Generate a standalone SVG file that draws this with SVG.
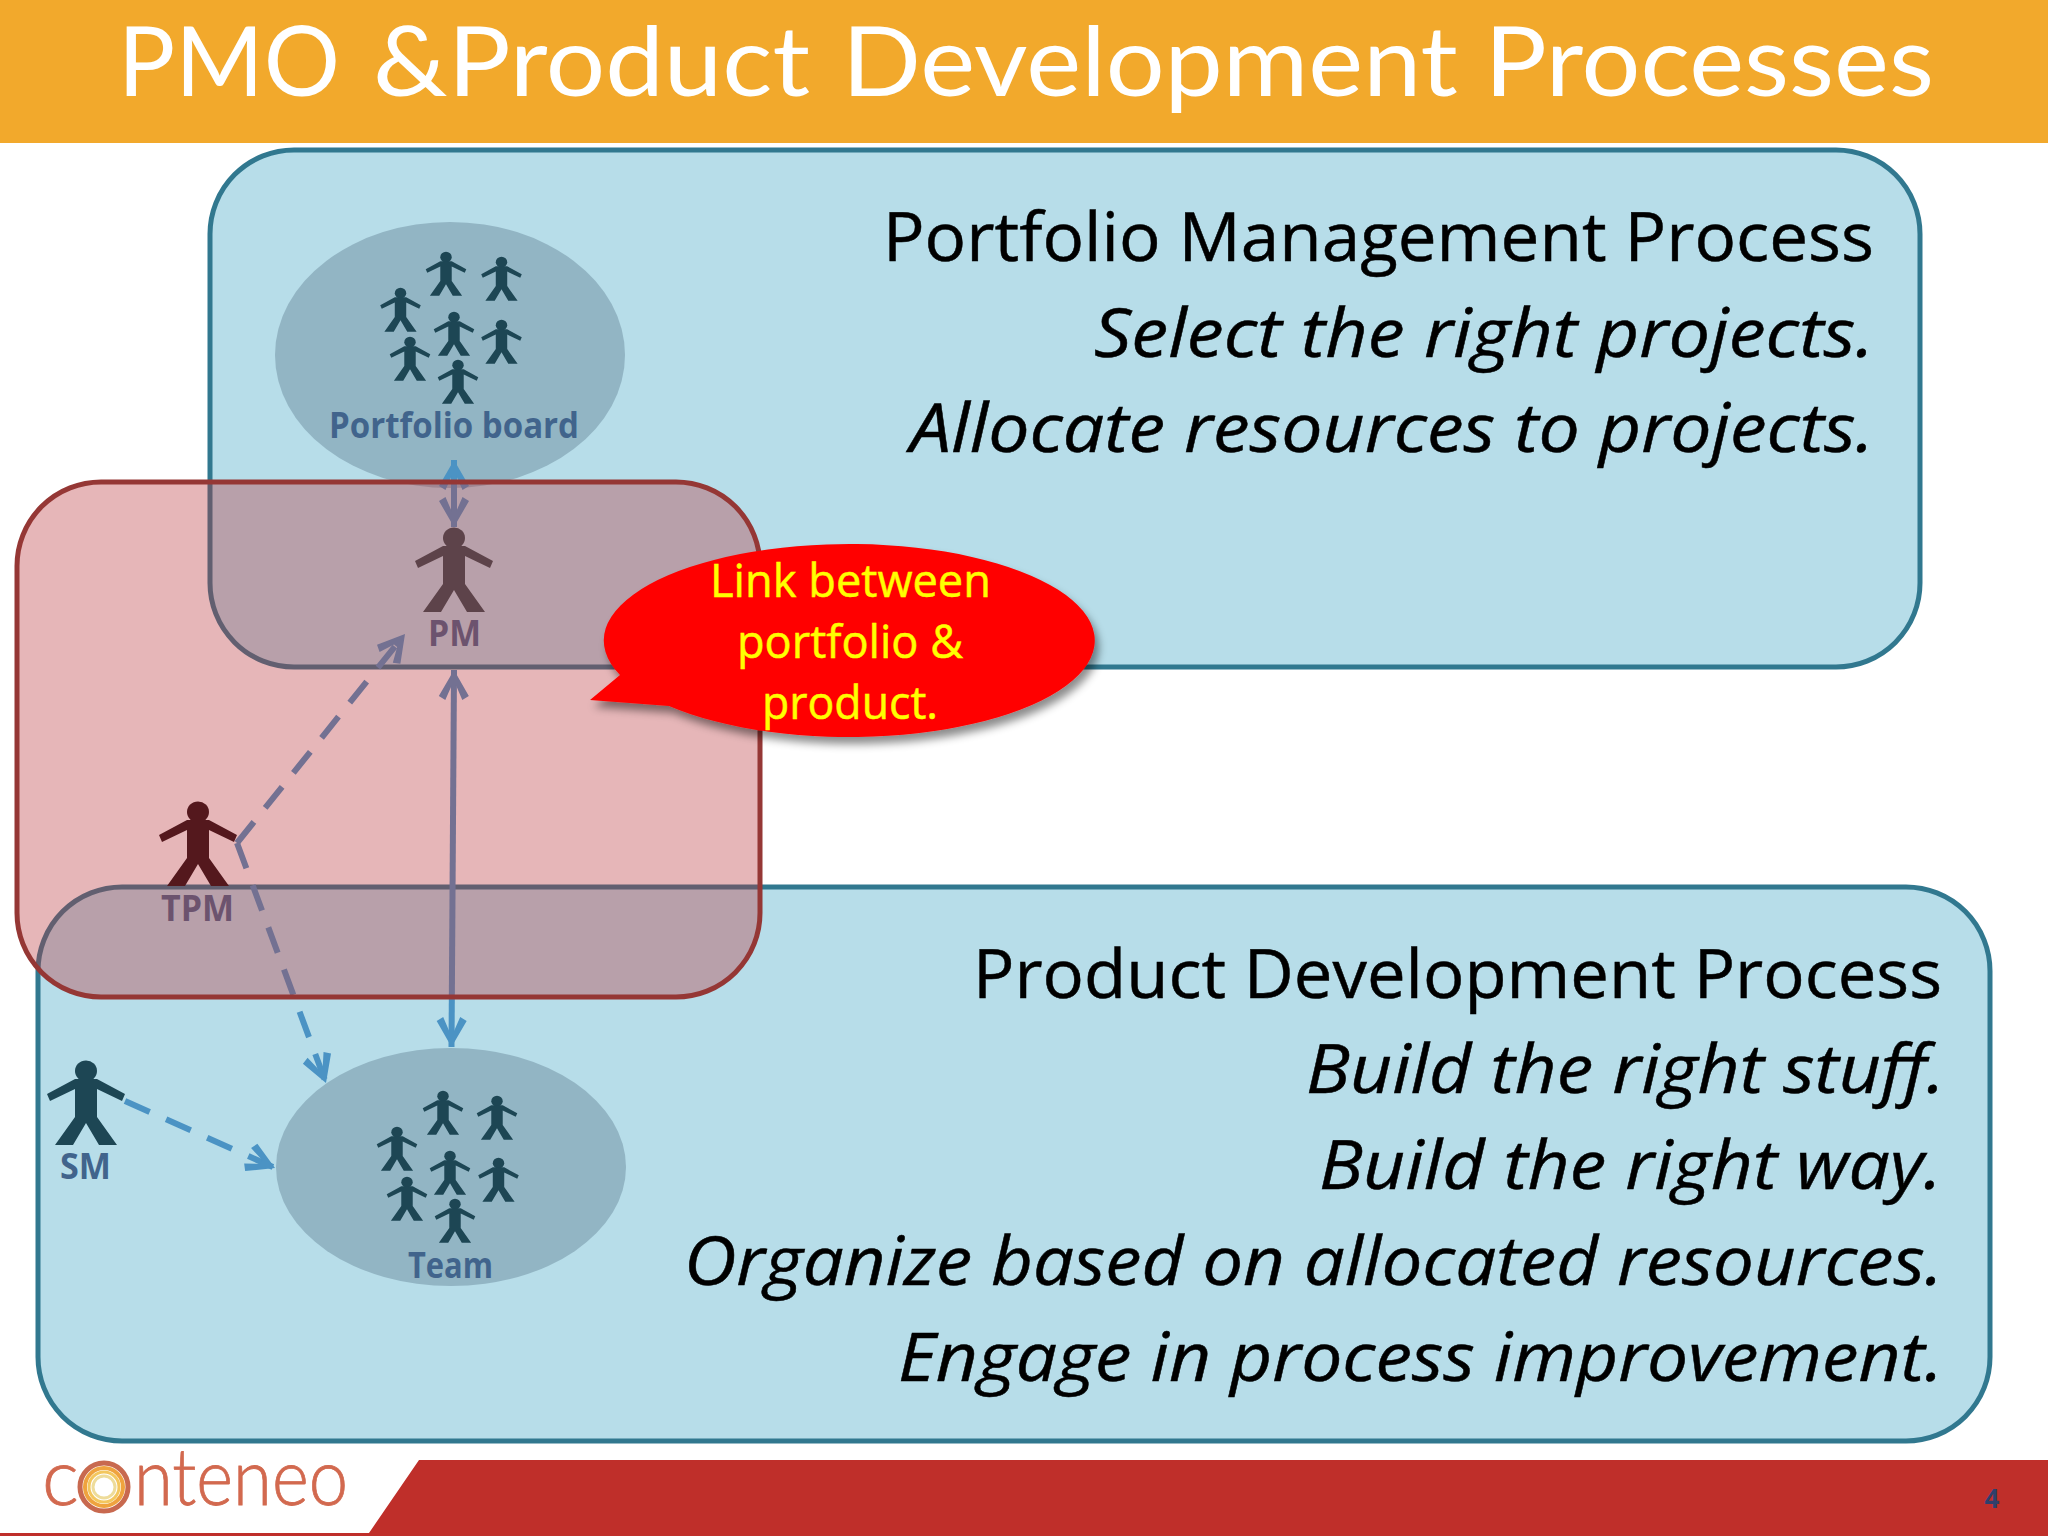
<svg xmlns="http://www.w3.org/2000/svg" width="2048" height="1536" viewBox="0 0 2048 1536">
<style>
text{font-family:"Open Sans","Noto Sans","Liberation Sans",sans-serif}
.h{font-size:68px;fill:#000;stroke:#000;stroke-width:.5}
.i{font-size:68px;fill:#000;font-style:italic;stroke:#000;stroke-width:.5}
.box{fill:#B7DDE9;stroke:#31788F;stroke-width:5}
.ell{fill:#92B5C4}
.lab{font-size:35px;font-weight:700;fill:#41648C}
.dk{fill:#1D4654}
.co{fill:none;stroke:#4B93C4;stroke-width:6}
.da{stroke-dasharray:27 18}
.call{font-size:46px;fill:#FFFF00;stroke:#FFFF00;stroke-width:.5}
</style>
<defs>
<g id="person">
<ellipse cx="0" cy="10" rx="11" ry="10.500"/>
<path d="M-11,18 L11,18 L39,33 L36,40 L11,28 L11,56 L31,84 L13,84 L0,62 L-13,84 L-31,84 L-11,56 L-11,28 L-36,40 L-39,33 Z"/>
</g>
<marker id="ah" markerUnits="userSpaceOnUse" markerWidth="36" markerHeight="36" viewBox="-34 -18 36 36" refX="0" refY="0" orient="auto-start-reverse">
<path d="M0,0 L-26,-15 L-30,-8.500 L-15,-2 L-15,2 L-30,8.500 L-26,15 Z" fill="#4B93C4"/>
</marker>
<filter id="sh" x="-10%" y="-10%" width="120%" height="125%">
<feDropShadow dx="4" dy="7" stdDeviation="4" flood-color="#000" flood-opacity="0.45"/>
</filter>
</defs>
<rect width="2048" height="1536" fill="#fff"/>
<g id="header">
<rect width="2048" height="143" fill="#F2A92C"/>
<text y="96" font-size="97" fill="#fff" style="font-family:Lato,'Open Sans',sans-serif"><tspan x="118" textLength="222" lengthAdjust="spacingAndGlyphs">PMO</tspan> <tspan x="373" textLength="437" lengthAdjust="spacingAndGlyphs">&amp;Product</tspan> <tspan x="842" textLength="1092" lengthAdjust="spacingAndGlyphs">Development Processes</tspan></text>
</g>
<g id="footer">
<path d="M419,1460 H2048 V1536 H0 V1533 H369 Z" fill="#BF2F2A"/>
<text x="1992" y="1508" font-size="26" font-weight="700" fill="#2F3F6B" text-anchor="middle">4</text>
</g>
<g id="logo">
<text y="1505" font-size="78" font-weight="300" fill="#D2694F" stroke="#D2694F" stroke-width=".8" style="font-family:Lato,'Open Sans',sans-serif"><tspan x="42">c</tspan><tspan x="84">o</tspan><tspan x="134" textLength="214" lengthAdjust="spacingAndGlyphs">nteneo</tspan></text>
<circle cx="104" cy="1487" r="28" fill="#fff"/>
<circle cx="104" cy="1487" r="24" fill="none" stroke="#C8694F" stroke-width="5"/>
<circle cx="104" cy="1487" r="19" fill="none" stroke="#EFA33E" stroke-width="4"/>
<circle cx="104" cy="1487" r="15" fill="none" stroke="#F3C75E" stroke-width="3"/>
<circle cx="104" cy="1487" r="11" fill="none" stroke="#EEDC9A" stroke-width="3"/>
</g>
<g id="portfolio-process">
<rect class="box" x="210" y="150" width="1710" height="517" rx="84"/>
<text class="h" x="883" y="261" textLength="991" lengthAdjust="spacingAndGlyphs">Portfolio Management Process</text>
<text class="i" x="1094" y="357" textLength="780" lengthAdjust="spacingAndGlyphs">Select the right projects.</text>
<text class="i" x="910" y="452" textLength="964" lengthAdjust="spacingAndGlyphs">Allocate resources to projects.</text>
</g>
<g id="product-process">
<rect class="box" x="38" y="887" width="1952" height="554" rx="84"/>
<text class="h" x="973" y="998" textLength="969" lengthAdjust="spacingAndGlyphs">Product Development Process</text>
<text class="i" x="1306" y="1093" textLength="639" lengthAdjust="spacingAndGlyphs">Build the right stuff.</text>
<text class="i" x="1319" y="1189" textLength="623" lengthAdjust="spacingAndGlyphs">Build the right way.</text>
<text class="i" x="684" y="1285" textLength="1259" lengthAdjust="spacingAndGlyphs">Organize based on allocated resources.</text>
<text class="i" x="898" y="1381" textLength="1045" lengthAdjust="spacingAndGlyphs">Engage in process improvement.</text>
</g>
<g id="portfolio-board">
<ellipse class="ell" cx="450" cy="355" rx="175" ry="133"/>
<g class="dk">
<use href="#person" transform="translate(446,252) scale(.52)"/>
<use href="#person" transform="translate(501.500,257) scale(.52)"/>
<use href="#person" transform="translate(400.500,288) scale(.52)"/>
<use href="#person" transform="translate(454,312) scale(.52)"/>
<use href="#person" transform="translate(501.500,320) scale(.52)"/>
<use href="#person" transform="translate(410,337) scale(.52)"/>
<use href="#person" transform="translate(458,360) scale(.52)"/>
</g>
<text class="lab" x="329" y="438" textLength="250" lengthAdjust="spacingAndGlyphs">Portfolio board</text>
</g>
<g id="team">
<ellipse class="ell" cx="451" cy="1167" rx="175" ry="119"/>
<g class="dk">
<use href="#person" transform="translate(443,1091) scale(.52)"/>
<use href="#person" transform="translate(497,1096) scale(.52)"/>
<use href="#person" transform="translate(397,1127) scale(.52)"/>
<use href="#person" transform="translate(450,1151) scale(.52)"/>
<use href="#person" transform="translate(498.500,1158) scale(.52)"/>
<use href="#person" transform="translate(407,1177) scale(.52)"/>
<use href="#person" transform="translate(455,1199) scale(.52)"/>
</g>
<text class="lab" x="408" y="1278" textLength="85" lengthAdjust="spacingAndGlyphs">Team</text>
</g>
<g id="pm">
<use href="#person" fill="#2A4C53" transform="translate(454,528)"/>
<text class="lab" x="428" y="646" textLength="53" lengthAdjust="spacingAndGlyphs">PM</text>
</g>
<g id="tpm">
<use href="#person" fill="#1C090E" transform="translate(198,802)"/>
<text class="lab" x="161" y="921" textLength="73" lengthAdjust="spacingAndGlyphs">TPM</text>
</g>
<g id="sm">
<use href="#person" class="dk" transform="translate(86,1061)"/>
<text class="lab" x="60" y="1179" textLength="51" lengthAdjust="spacingAndGlyphs">SM</text>
</g>
<g id="connectors">
<line class="co" x1="454" y1="460" x2="454" y2="527" marker-start="url(#ah)" marker-end="url(#ah)"/>
<line class="co" x1="454" y1="670" x2="451.500" y2="1047" marker-start="url(#ah)" marker-end="url(#ah)"/>
<line class="co da" x1="237" y1="843" x2="405" y2="634" marker-end="url(#ah)"/>
<line class="co da" x1="237" y1="843" x2="326" y2="1083" marker-end="url(#ah)"/>
<line class="co da" x1="125" y1="1101" x2="275" y2="1168" marker-end="url(#ah)"/>
</g>
<g id="link-region">
<rect x="17" y="482" width="743" height="515" rx="84" fill="#BA343A" fill-opacity=".36" stroke="#953735" stroke-width="5"/>
</g>
<g id="callout">
<path filter="url(#sh)" fill="#F00" d="M590,700 L620,675 A245.500 96.500 0 1 1 669,706 Z"/>
<text class="call" x="710" y="597" textLength="281" lengthAdjust="spacingAndGlyphs">Link between</text>
<text class="call" x="737" y="658" textLength="226" lengthAdjust="spacingAndGlyphs">portfolio &amp;</text>
<text class="call" x="762" y="719" textLength="176" lengthAdjust="spacingAndGlyphs">product.</text>
</g>
</svg>
